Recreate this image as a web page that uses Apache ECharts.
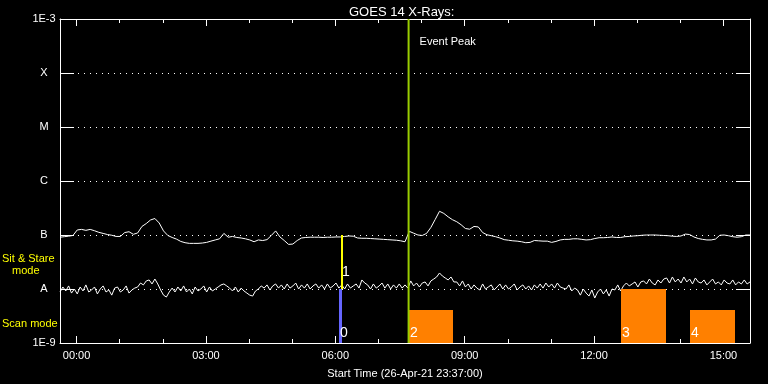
<!DOCTYPE html>
<html><head><meta charset="utf-8">
<script src="https://cdn.jsdelivr.net/npm/echarts@6/dist/echarts.min.js"></script>
<style>html,body{margin:0;padding:0;background:#000;}#c{width:768px;height:384px;}</style>
</head><body><div id="c"></div>
<script>
// ---------- data ----------
const START_HOUR = -23 / 60;      // 26-Apr-21 23:37:00, in hours relative to 27-Apr 00:00
const SPAN_HOURS = 16;
const LONG_STEP_MIN = 6;           // sampling of the long-channel readings
const SHORT_STEP_MIN = 4;          // sampling of the short-channel readings
const FLUX_UNIT = 1e-9;            // values below are in 1e-9 W/m^2

const longFlux = [
  91, 93, 95, 98, 124, 127, 122, 127, 120, 112,
  107, 102, 99, 94, 94, 111, 115, 103, 109, 144,
  163, 190, 202, 167, 119, 98, 90, 84, 76, 72,
  70, 70, 70, 71, 73, 77, 81, 85, 107, 91,
  94, 90, 88, 85, 81, 75, 81, 79, 82, 98,
  119, 92, 79, 67, 68, 79, 88, 90, 91, 91,
  91, 90, 91, 91, 92, 92, 94, 96, 95, 88,
  87, 87, 86, 85, 84, 83, 82, 81, 80, 78,
  75, 117, 108, 100, 98, 107, 138, 194, 275, 251,
  217, 192, 176, 155, 132, 128, 144, 141, 111, 101,
  97, 93, 88, 82, 80, 78, 77, 75, 72, 73,
  79, 78, 77, 77, 73, 76, 81, 83, 83, 85,
  85, 83, 81, 82, 86, 89, 89, 90, 92, 90,
  90, 93, 94, 96, 97, 99, 100, 100, 100, 99,
  98, 97, 95, 94, 96, 104, 102, 92, 86, 83,
  81, 81, 84, 99, 100, 97, 93, 91, 93, 100,
  100
];

const shortFlux = [
  8.8, 10.9, 9.2, 11.4, 8.4, 10.0, 8.1, 10.9, 9.2, 11.9, 8.8, 9.6, 10.9, 8.1, 10.0, 11.4, 8.8, 9.6, 7.7, 10.4, 10.9, 8.8, 9.6, 11.4, 8.4, 9.6, 10.4,
  10.9, 12.9, 11.9, 14.1, 14.7, 12.4, 15.3, 12.4,
  9.6, 7.7, 7.1, 8.8,
  10.4, 8.8, 10.9, 9.2, 11.4, 8.8, 10.0, 8.1, 10.9, 9.2, 10.0, 11.4, 8.8, 10.9, 9.2, 10.0, 10.9, 11.9,
  12.4, 11.4, 10.4,
  9.2, 10.9, 8.8, 10.4, 9.2, 8.4,
  7.7, 7.4, 9.2,
  10.0, 11.4, 10.4, 11.9, 9.6, 11.4,
  12.4, 10.4, 11.9, 10.0, 12.4, 10.4, 11.4, 12.9, 10.0, 11.9, 10.4, 12.4, 10.0, 11.4, 12.4, 10.4, 11.9, 10.0, 12.4, 10.4, 11.4, 12.9, 10.4, 11.9, 10.0, 12.4, 10.4, 11.4, 12.4, 10.4,
  14.7, 12.9,
  11.9, 10.0, 12.4, 10.4, 11.4, 12.9, 10.4, 12.4, 10.0, 11.9, 10.4, 12.4, 10.4,
  11.9, 10.4,
  14.1, 11.4, 12.9, 10.9, 12.9, 13.5, 11.4,
  14.1, 15.3, 16.7,
  19.8,
  17.4, 16.0, 14.7, 16.7, 13.5,
  13.5, 11.4, 14.1, 10.9, 12.4,
  10.0, 11.9, 10.4, 9.6, 12.4, 10.0, 10.9, 11.9, 9.6, 10.9, 12.4, 10.0, 11.9, 10.0, 10.9, 12.4, 9.6, 10.9, 11.9, 10.0, 11.4, 9.6, 11.9, 10.4,
  12.4, 10.4, 12.9, 10.9, 12.4, 10.4, 12.9, 10.9,
  10.4, 10.0, 11.9, 9.2, 10.4,
  9.6, 7.7, 10.0, 8.4, 7.4, 9.6, 6.8, 8.8, 10.0, 8.1, 9.6, 7.4, 10.0,
  9.6, 11.9, 9.2, 11.4,
  12.9, 11.4, 12.4, 13.5, 10.9, 13.5,
  14.1, 12.4, 15.3, 12.9, 11.9, 14.7, 12.9, 15.3,
  16.0, 12.9, 16.7, 13.5, 15.3, 12.9, 16.7, 13.5, 15.3, 12.4, 16.0, 13.5,
  12.9, 14.7, 11.9, 13.5, 15.3, 12.4, 13.5, 11.9, 14.7, 12.9, 12.4, 14.7, 11.9, 13.5, 12.4, 14.7, 12.4, 13.5
];

const majorHours = [0, 3, 6, 9, 12, 15];
const minorHours = [1, 2, 4, 5, 7, 8, 10, 11, 13, 14];
const levelNames = { '-3': '1E-3', '-4': 'X', '-5': 'M', '-6': 'C', '-7': 'B', '-8': 'A', '-9': '1E-9' };

const obsIds   = ['0', '1', '2', '3', '4'];
const obsStart = ['06:05', '06:08', '07:43', '12:38', '14:14'];
const obsEnd   = ['06:09', '06:11', '08:44', '13:40', '15:16'];
const obsLow   = [1e-9, 1e-8, 1e-9, 1e-9, 1e-9];
const obsHigh  = [1e-8, 1e-7, 4.1e-9, 1e-8, 4.1e-9];
const obsMode  = ['scan', 'sit', 'scan', 'scan', 'scan'];
const peakTime = '07:42';

// ---------- style ----------
const FONT = '"Liberation Sans", Arial, sans-serif';
const obsColors = { '0': '#6666ff', '1': '#ffff00', '2': '#ff8000', '3': '#ff8000', '4': '#ff8000' };
const PEAK_COLOR = '#99cc00';
const Y_MIN = 1e-9, Y_MAX = 1e-3;

function hh(t) { const p = t.split(':'); return +p[0] + (+p[1]) / 60; }
function pad(n) { return (n < 10 ? '0' : '') + n; }

const longData = longFlux.map((v, i) => [START_HOUR + i * LONG_STEP_MIN / 60, v * FLUX_UNIT]);
const shortData = shortFlux.map((v, i) => [START_HOUR + i * SHORT_STEP_MIN / 60, v * FLUX_UNIT]);
const obsData = obsIds.map((id, i) => [hh(obsStart[i]), hh(obsEnd[i]), obsLow[i], obsHigh[i]]);

const chart = echarts.init(document.getElementById('c'), null, { renderer: 'canvas' });

function xAxisDef(pos, ticks, len, showLine, showLabel) {
  return {
    type: 'value', position: pos, min: START_HOUR, max: START_HOUR + SPAN_HOURS,
    axisLine: { show: showLine, onZero: false, lineStyle: { color: '#fff', width: 1 } },
    axisTick: { show: true, inside: true, length: len, customValues: ticks, lineStyle: { color: '#fff', width: 1 } },
    axisLabel: showLabel ? {
      show: true, customValues: ticks, color: '#fff', fontFamily: FONT, fontSize: 11, margin: 7,
      formatter: v => pad(Math.round(v)) + ':00'
    } : { show: false },
    splitLine: { show: false },
    name: showLabel ? 'Start Time (26-Apr-21 23:37:00)' : '',
    nameLocation: 'middle', nameGap: 25,
    nameTextStyle: { color: '#fff', fontFamily: FONT, fontSize: 11 }
  };
}

function yAxisDef(pos, showLabel) {
  return {
    type: 'log', logBase: 10, min: Y_MIN, max: Y_MAX, position: pos, splitNumber: 6,
    axisLine: { show: true, onZero: false, lineStyle: { color: '#fff', width: 1 } },
    axisTick: { show: true, inside: true, length: 14, lineStyle: { color: '#fff', width: 1 } },
    axisLabel: showLabel ? {
      color: '#fff', fontFamily: FONT, fontSize: 11, align: 'center', margin: 16,
      formatter: v => levelNames[String(Math.round(Math.log10(v)))] || ''
    } : { show: false },
    splitLine: { show: showLabel, lineStyle: { color: '#fff', width: 1, type: [1, 5] } }
  };
}

const option = {
  backgroundColor: '#000',
  animation: false,
  title: {
    text: 'GOES 14 X-Rays:', left: 344, top: 1,
    textStyle: { color: '#fff', fontFamily: FONT, fontSize: 13, fontWeight: 'normal' }
  },
  grid: { left: 60, right: 18, top: 19, bottom: 41, containLabel: false, outerBoundsMode: 'none' },
  xAxis: [
    xAxisDef('bottom', majorHours, 7, true, true),
    xAxisDef('bottom', minorHours, 4, false, false),
    xAxisDef('top', majorHours, 7, true, false),
    xAxisDef('top', minorHours, 4, false, false)
  ],
  yAxis: [yAxisDef('left', true), yAxisDef('right', false)],
  graphic: [
    { type: 'text', left: 2, top: 253, style: { text: 'Sit & Stare', fill: '#ffff00', font: '11px ' + FONT } },
    { type: 'text', left: 12, top: 265, style: { text: 'mode', fill: '#ffff00', font: '11px ' + FONT } },
    { type: 'text', left: 2, top: 318, style: { text: 'Scan mode', fill: '#ffff00', font: '11px ' + FONT } }
  ],
  series: [
    {
      type: 'line', name: 'long', data: longData, showSymbol: false, symbol: 'none',
      lineStyle: { color: '#fff', width: 1 }, xAxisIndex: 0, yAxisIndex: 0, z: 3
    },
    {
      type: 'line', name: 'short', data: shortData, showSymbol: false, symbol: 'none',
      lineStyle: { color: '#fff', width: 1 }, xAxisIndex: 0, yAxisIndex: 0, z: 3
    },
    {
      type: 'custom', name: 'observations', data: obsData, xAxisIndex: 0, yAxisIndex: 0, z: 4,
      encode: { x: [0, 1], y: [2, 3] },
      renderItem(params, api) {
        const i = params.dataIndex;
        const p0 = api.coord([api.value(0), api.value(3)]);
        const p1 = api.coord([api.value(1), api.value(2)]);
        const x0 = Math.round(p0[0]), x1 = Math.round(p1[0]);
        const y0 = Math.round(p0[1]), y1 = Math.round(p1[1]);
        const off = obsMode[i] === 'sit' ? 17 : 10;
        return {
          type: 'group', children: [
            { type: 'rect', shape: { x: x0, y: y0, width: Math.max(1, x1 - x0), height: y1 - y0 },
              style: { fill: obsColors[obsIds[i]] } },
            { type: 'text', x: x0 + 1, y: y1 - off,
              style: { text: obsIds[i], fill: '#fff', font: '14px ' + FONT, verticalAlign: 'middle', align: 'left' } }
          ]
        };
      }
    },
    {
      type: 'custom', name: 'peak', data: [[hh(peakTime)]], xAxisIndex: 0, yAxisIndex: 0, z: 5,
      encode: { x: 0 },
      renderItem(params, api) {
        const t = api.value(0);
        const top = api.coord([t, Y_MAX]);
        const bot = api.coord([t, Y_MIN]);
        return {
          type: 'group', children: [
            { type: 'line', shape: { x1: top[0], y1: top[1], x2: bot[0], y2: bot[1] },
              style: { stroke: PEAK_COLOR, lineWidth: 2 } },
            { type: 'text', x: top[0] + 11, y: top[1] + 23,
              style: { text: 'Event Peak', fill: '#fff', font: '11px ' + FONT, verticalAlign: 'middle' } }
          ]
        };
      }
    }
  ]
};
chart.setOption(option);
</script>
</body></html>
